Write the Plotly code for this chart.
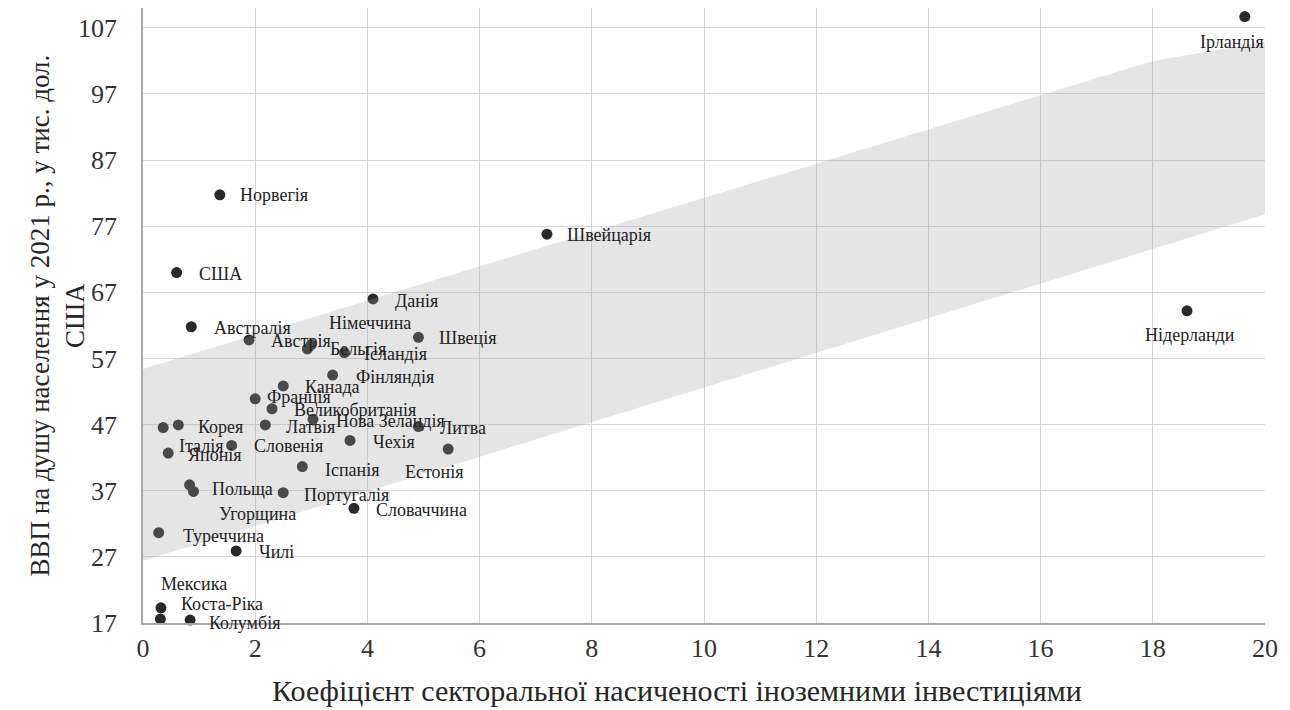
import plotly.graph_objects as go

# ---- data ----
countries = ["Ірландія", "Нідерланди", "Швейцарія", "Норвегія", "США", "Данія",
             "Австралія", "Австрія", "Німеччина", "Бельгія", "Ісландія", "Швеція",
             "Фінляндія", "Канада", "Франція", "Великобританія", "Нова Зеландія",
             "Латвія", "Литва", "Корея", "Італія", "Японія", "Словенія", "Чехія",
             "Естонія", "Іспанія", "Польща", "Угорщина", "Португалія", "Словаччина",
             "Туреччина", "Чилі", "Коста-Ріка", "Мексика", "Колумбія"]
coef = [19.64, 18.61, 7.20, 1.37, 0.60, 4.10,
        0.86, 1.89, 3.00, 2.93, 3.59, 4.91,
        3.38, 2.50, 2.00, 2.30, 3.03,
        2.18, 4.91, 0.63, 0.36, 0.45, 1.58, 3.69,
        5.44, 2.84, 0.83, 0.90, 2.50, 3.76,
        0.28, 1.66, 0.32, 0.31, 0.84]
gdp = [108.7, 64.2, 75.8, 81.75, 70.0, 66.0,
       61.8, 59.8, 59.1, 58.45, 57.9, 60.2,
       54.5, 52.85, 50.9, 49.4, 47.8,
       46.95, 46.7, 46.95, 46.55, 42.7, 43.85, 44.6,
       43.3, 40.65, 37.9, 36.9, 36.7, 34.35,
       30.65, 27.9, 19.3, 17.6, 17.45]

# shaded band
band_x = [0, 18, 20, 20, 0]
band_y = [55.4, 102.0, 104.9, 78.8, 26.4]

x_ticks = [0, 2, 4, 6, 8, 10, 12, 14, 16, 18, 20]
y_ticks = [17, 27, 37, 47, 57, 67, 77, 87, 97, 107]

x_title = "Коефіцієнт секторальної насиченості іноземними інвестиціями"
y_title = "ВВП на душу населення у 2021 р., у тис. дол.<br>США"

# ---- label placement (style, px offsets: anchor, xshift, yshift) ----
label_pos = {
    "Ірландія": ("center", -13, -25),
    "Нідерланди": ("center", 3, -24),
    "Швейцарія": ("left", 18, -1),
    "Норвегія": ("left", 18, 0),
    "США": ("left", 20, -1),
    "Данія": ("left", 20, -2),
    "Австралія": ("left", 21, -1),
    "Австрія": ("left", 20, -1),
    "Німеччина": ("center", 59, 22),
    "Бельгія": ("left", 21, 0),
    "Ісландія": ("left", 18, -1),
    "Швеція": ("left", 19, -1),
    "Фінляндія": ("left", 21, -2),
    "Канада": ("left", 20, -1),
    "Франція": ("left", 10, 2),
    "Великобританія": ("left", 20, -1),
    "Нова Зеландія": ("left", 21, -2),
    "Латвія": ("left", 19, -2),
    "Литва": ("left", 20, -1),
    "Корея": ("left", 18, -2),
    "Італія": ("left", 14, -18),
    "Японія": ("left", 18, -2),
    "Словенія": ("left", 20, -1),
    "Чехія": ("left", 21, -2),
    "Естонія": ("left", -45, -23),
    "Іспанія": ("left", 21, -3),
    "Польща": ("left", 20, -4),
    "Угорщина": ("left", 24, -23),
    "Португалія": ("left", 19, -2),
    "Словаччина": ("left", 20, -2),
    "Туреччина": ("left", 22, -3),
    "Чилі": ("left", 21, -1),
    "Коста-Ріка": ("left", 18, 4),
    "Мексика": ("left", -1, 35),
    "Колумбія": ("left", 17, -3),
}

SERIF = "Liberation Serif, Times New Roman, serif"

fig = go.Figure()

fig.add_trace(go.Scatter(
    x=coef, y=gdp, mode="markers",
    marker=dict(size=11, color="#2a2a2a", line=dict(width=0)),
    cliponaxis=False, hoverinfo="text", text=countries, showlegend=False,
))

fig.add_trace(go.Scatter(
    x=band_x, y=band_y, mode="lines", fill="toself",
    fillcolor="rgba(160,160,160,0.27)", line=dict(width=0),
    hoverinfo="skip", showlegend=False,
))

annotations = []
for name, xv, yv in zip(countries, coef, gdp):
    anchor, dx, dy = label_pos[name]
    annotations.append(dict(
        x=xv, y=yv, xref="x", yref="y", text=name, showarrow=False,
        xanchor=anchor, yanchor="middle", xshift=dx, yshift=dy,
        font=dict(family=SERIF, size=18, color="#222222"),
    ))

annotations.append(dict(
    text=x_title, xref="paper", yref="paper", x=0.476, y=-0.109,
    xanchor="center", yanchor="middle", showarrow=False,
    font=dict(family=SERIF, size=30, color="#262626"),
))
annotations.append(dict(
    text=y_title, xref="paper", yref="paper", x=-0.0766, y=0.5,
    xanchor="center", yanchor="middle", showarrow=False, textangle=-90,
    font=dict(family=SERIF, size=27, color="#262626"),
))

fig.update_layout(
    width=1282, height=702,
    margin=dict(l=135, r=25, t=0, b=87),
    paper_bgcolor="white", plot_bgcolor="white",
    annotations=annotations,
    xaxis=dict(
        range=[0, 20], tickvals=x_ticks, ticktext=[str(v) for v in x_ticks],
        showgrid=True, gridcolor="#d6d6d6", gridwidth=1.3,
        zeroline=False, showline=True, linecolor="#a8a8a8", linewidth=1.5,
        ticks="", ticklabelstandoff=1,
        tickfont=dict(family=SERIF, size=26, color="#333333"),
    ),
    yaxis=dict(
        range=[17, 110.0], tickvals=y_ticks, ticktext=[str(v) for v in y_ticks],
        showgrid=True, gridcolor="#d6d6d6", gridwidth=1.3,
        zeroline=False, showline=True, linecolor="#a8a8a8", linewidth=1.5,
        ticks="", ticklabelstandoff=19,
        tickfont=dict(family=SERIF, size=26, color="#333333"),
    ),
)

fig.write_html("out.html")
